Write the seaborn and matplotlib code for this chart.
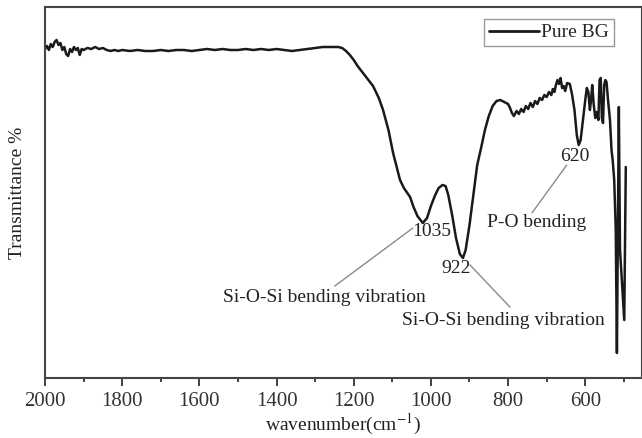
import numpy as np
import pandas as pd
import matplotlib
matplotlib.use("Agg")
import matplotlib.pyplot as plt
from matplotlib.ticker import MultipleLocator
import seaborn as sns

# ---- data ----
wavenumber = [2000, 1995, 1990, 1985, 1980, 1975, 1970, 1965, 1960, 1955, 1950, 1945, 1940,
              1935, 1930, 1925, 1920, 1915, 1910, 1905, 1900, 1890, 1880, 1870, 1860, 1850,
              1840, 1830, 1820, 1810, 1800, 1780, 1760, 1740, 1720, 1700, 1680, 1660, 1640,
              1620, 1600, 1580, 1560, 1540, 1520, 1500, 1480, 1460, 1440, 1420, 1400, 1380,
              1360, 1340, 1320, 1300, 1280, 1260, 1240, 1230, 1220, 1210, 1200, 1190, 1170,
              1150, 1135, 1124, 1110, 1098, 1088, 1080, 1070, 1054, 1045, 1035, 1021, 1010,
              1000, 990, 980, 970, 962, 955, 945, 935, 925, 917, 910, 900, 890, 880, 870, 860,
              850, 840, 830, 820, 810, 800, 795, 790, 785, 778, 772, 766, 760, 754, 748, 742,
              736, 730, 724, 718, 712, 706, 700, 694, 688, 684, 680, 676, 672, 668, 664, 660,
              656, 652, 647, 640, 634, 628, 622, 617, 612, 606, 600, 596, 592, 588, 585, 582,
              578, 574, 570, 566, 563, 560, 557, 554, 551, 548, 545, 541, 536, 532, 529, 525,
              521, 518, 513, 510, 499, 495]
# curve height in picture pixels (converted to transmittance below)
pix = [49, 46, 50, 44, 47, 42, 40, 45, 43, 50, 47, 54, 56,
       49, 52, 47, 50, 48, 55, 49, 50, 48, 49, 47, 49, 48,
       50, 51, 50, 51, 50, 51, 50, 51, 51, 50, 51, 50, 50,
       51, 50, 49, 50, 49, 50, 50, 49, 50, 49, 50, 49, 50,
       51, 50, 49, 48, 47, 47, 47, 48, 51, 55, 60, 66, 76,
       86, 98, 110, 130, 153, 168, 180, 188, 197, 207, 216, 223, 218,
       206, 196, 188, 185, 186, 195, 215, 238, 254, 258, 250, 225, 195, 165, 148, 130,
       116, 106, 101, 100, 102, 104, 108, 113, 116, 111, 114, 109, 112, 106, 109, 103,
       107, 101, 104, 98, 100, 95, 97, 92, 95, 89, 92, 85, 80, 84, 78, 88,
       86, 91, 83, 84, 95, 110, 135, 145, 140, 120, 100, 88, 92, 110, 100, 85,
       105, 118, 112, 120, 80, 78, 118, 123, 85, 80, 82, 100, 120, 150, 160, 180,
       230, 353, 107, 250, 320, 167]
transmittance = [(378 - p) / 3.71 for p in pix]

tick_values = [2000, 1800, 1600, 1400, 1200, 1000, 800, 600]
tick_labels = ["2000", "1800", "1600", "1400", "1200", "1000", "800", "600"]

df = pd.DataFrame({"wavenumber": wavenumber, "T": transmittance, "sample": "Pure BG"})

sns.set_style("white")
plt.rcParams["font.family"] = ["Liberation Serif", "DejaVu Serif"]
plt.rcParams["mathtext.fontset"] = "stix"

fig = plt.figure(figsize=(6.42, 4.38), dpi=100)
ax = fig.add_axes([45 / 642, (438 - 378) / 438, 597 / 642, 371 / 438])

sns.lineplot(data=df, x="wavenumber", y="T", hue="sample", palette=["#1a1a1a"],
             estimator=None, sort=False, linewidth=1.8, ax=ax)

ax.set_xlim(2000, 453)
ax.set_ylim(0, 100)

# annotations
gray = "#8a8a8a"
ax.plot([1249, 1047], [24.8, 40.4], color=gray, lw=1)
ax.plot([899, 795], [30.5, 19.1], color=gray, lw=1)
ax.plot([738, 648], [44.5, 57.4], color=gray, lw=1)
fs = 14
ax.text(997, 39.4, "1035", ha="center", va="center", fontsize=fs, color="#222")
ax.text(935, 29.6, "922", ha="center", va="center", fontsize=fs, color="#222")
ax.text(627, 59.8, "620", ha="center", va="center", fontsize=fs, color="#222")
ax.text(725, 41.8, "P-O bending", ha="center", va="center", fontsize=fs, color="#222")
ax.text(1275, 21.8, "Si-O-Si bending vibration", ha="center", va="center", fontsize=fs, color="#222")
ax.text(813, 15.6, "Si-O-Si bending vibration", ha="center", va="center", fontsize=fs, color="#222")

# axes styling
ax.set_xticks(tick_values)
ax.set_xticklabels(tick_labels)
ax.xaxis.set_minor_locator(MultipleLocator(100))
ax.tick_params(axis="x", which="major", direction="out", length=6, width=1.3,
               colors="#333", labelsize=15, pad=4, bottom=True)
ax.tick_params(axis="x", which="minor", direction="out", length=3, width=1.3,
               colors="#333", bottom=True)
ax.set_yticks([])
for s in ax.spines.values():
    s.set_color("#444")
    s.set_linewidth(1.5)
ax.set_xlabel("wavenumber(cm$^{-1}$)", fontsize=14, color="#222", labelpad=1)
ax.set_ylabel("Transmittance %", fontsize=14, color="#222", labelpad=14)

leg = ax.legend(loc="upper right", bbox_to_anchor=((614 - 45) / 597, (378 - 19) / 371),
                borderaxespad=0, fancybox=False, edgecolor="#999", framealpha=1,
                fontsize=14, handlelength=2.6, handletextpad=0.1, borderpad=0.25)
for line in leg.get_lines():
    line.set_linewidth(2)

fig.savefig("out.png", dpi=100)
